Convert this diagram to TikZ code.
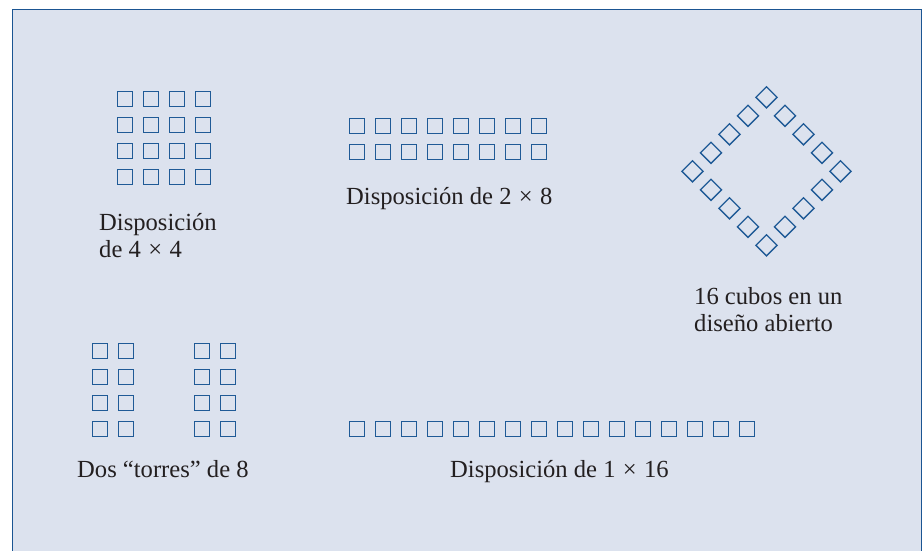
\documentclass[tikz,border=0pt]{standalone}
\usepackage{fontspec}
\setmainfont{Liberation Serif}
\definecolor{panelfill}{HTML}{DCE2EE}
\definecolor{panelline}{HTML}{1B5592}
\definecolor{cubeline}{HTML}{1F5A96}
\definecolor{txt}{HTML}{231F20}
\newcommand{\twolines}[2]{\begin{tabular}[t]{@{}l@{}}#1\\#2\end{tabular}}
\newcommand{\tms}{\hspace{0.3em}×\hspace{0.3em}}
\begin{document}
\begin{tikzpicture}[x=1pt,y=-1pt,
  cube/.style={draw=cubeline,line width=1.3pt,minimum size=15pt,inner sep=0pt,outer sep=0pt,shape=rectangle},
  dcube/.style={cube,rotate=45},
  lbl/.style={anchor=base west,inner sep=0pt,text=txt,font=\fontsize{24.6}{27}\selectfont}]
\useasboundingbox (0,0) rectangle (922,551);
\fill[panelfill] (12.5,9.5) rectangle (921.5,560);
\draw[panelline,line width=1.5pt] (12.5,560) -- (12.5,9.5) -- (921.5,9.5) -- (921.5,560);
% 4 x 4
\foreach \i in {0,...,3}
  \foreach \j in {0,...,3}
    \node[cube] (a-\i-\j) at ({125+26*\i},{99.3+26*\j}) {};
% 2 x 8
\foreach \i in {0,...,7}
  \foreach \j in {0,1}
    \node[cube] (b-\i-\j) at ({357.3+26*\i},{126+26*\j}) {};
% towers
\foreach \i/\x in {0/100.3,1/126.3,2/202.3,3/228.3}
  \foreach \j in {0,...,3}
    \node[cube] (t-\i-\j) at (\x,{351.3+26*\j}) {};
% 1 x 16
\foreach \i in {0,...,15}
  \node[cube] (r-\i) at ({357.3+26*\i},429.3) {};
% open design
\foreach \k in {0,...,3}{
  \node[dcube] (d1-\k) at ({766.5-18.5*\k},{97.3+18.5*\k}) {};
  \node[dcube] (d2-\k) at ({692.5+18.5*\k},{171.3+18.5*\k}) {};
  \node[dcube] (d3-\k) at ({766.5+18.5*\k},{245.3-18.5*\k}) {};
  \node[dcube] (d4-\k) at ({840.5-18.5*\k},{171.3-18.5*\k}) {};
}
% labels
\node[lbl] (l1) at (99,230.5) {\twolines{Disposición}{de 4\tms 4}};
\node[lbl] (l2) at (346,204) {Disposición de 2\tms 8};
\node[lbl] (l3) at (694,304.5) {\twolines{16 cubos en un}{diseño abierto}};
\node[lbl] (l4) at (77,477) {Dos “torres” de 8};
\node[lbl] (l5) at (450,477) {Disposición de 1\tms 16};
\end{tikzpicture}
\end{document}
